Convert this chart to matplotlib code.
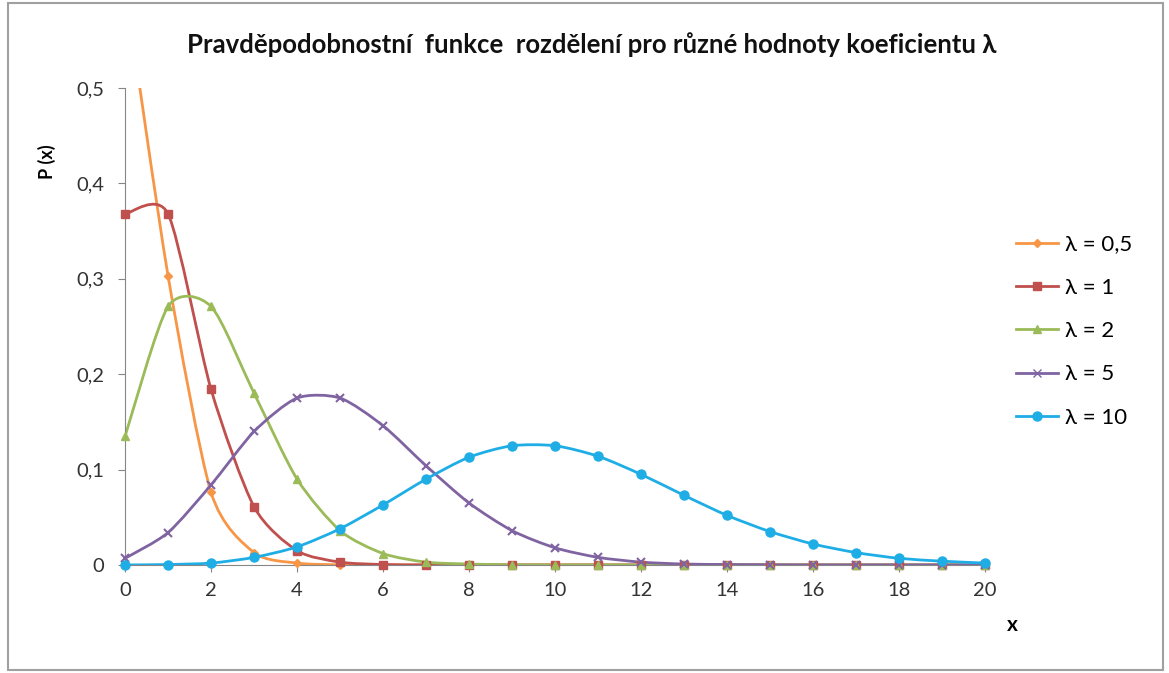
import matplotlib
matplotlib.use("Agg")
import matplotlib.pyplot as plt
from matplotlib.path import Path
from matplotlib.patches import PathPatch, Rectangle
from matplotlib.lines import Line2D

plt.rcParams['font.family'] = ['Lato', 'DejaVu Sans']

# values
x = list(range(21))
lam_05 = [0.607, 0.303, 0.076, 0.013, 0.002, 0.0002, 0, 0, 0, 0, 0, 0, 0, 0, 0, 0, 0, 0, 0, 0, 0]
lam_1 = [0.368, 0.368, 0.184, 0.061, 0.015, 0.003, 0.0005, 0.0001, 0, 0, 0, 0, 0, 0, 0, 0, 0, 0, 0, 0, 0]
lam_2 = [0.135, 0.271, 0.271, 0.180, 0.090, 0.036, 0.012, 0.003, 0.001, 0.0002, 0, 0, 0, 0, 0, 0, 0, 0, 0, 0, 0]
lam_5 = [0.007, 0.034, 0.084, 0.140, 0.175, 0.175, 0.146, 0.104, 0.065, 0.036, 0.018, 0.008,
         0.003, 0.001, 0.0005, 0.0002, 0, 0, 0, 0, 0]
lam_10 = [0.0, 0.0005, 0.002, 0.008, 0.019, 0.038, 0.063, 0.090, 0.113, 0.125, 0.125, 0.114,
          0.095, 0.073, 0.052, 0.035, 0.022, 0.013, 0.007, 0.004, 0.002]

series = [
    ("λ = 0,5", lam_05, "#F79646", "D", 4),
    ("λ = 1", lam_1, "#C0504D", "s", 6),
    ("λ = 2", lam_2, "#9BBB59", "^", 6),
    ("λ = 5", lam_5, "#8064A2", "x", 6),
    ("λ = 10", lam_10, "#1FADE6", "o", 6.5),
]


def smooth_path(xs, ys, k=1 / 8):
    # Excel-like smoothed line: cubic bezier, control points from neighbours
    n = len(xs)
    verts = [(xs[0], ys[0])]
    codes = [Path.MOVETO]
    for i in range(n - 1):
        i0 = max(i - 1, 0)
        i3 = min(i + 2, n - 1)
        c1 = (xs[i] + (xs[i + 1] - xs[i0]) * k, ys[i] + (ys[i + 1] - ys[i0]) * k)
        c2 = (xs[i + 1] - (xs[i3] - xs[i]) * k, ys[i + 1] - (ys[i3] - ys[i]) * k)
        verts += [c1, c2, (xs[i + 1], ys[i + 1])]
        codes += [Path.CURVE4] * 3
    return Path(verts, codes)


fig = plt.figure(figsize=(11.69, 6.73), dpi=100)
ax = fig.add_axes([0.107, 0.1605, 0.7356, 0.7087])

handles = []
for label, ys, col, mk, ms in series:
    patch = PathPatch(smooth_path(x, ys), facecolor="none", edgecolor=col, lw=2)
    ax.add_patch(patch)
    ax.plot(x, ys, ls="none", marker=mk, color=col, ms=ms, mew=1.5 if mk == "x" else 1,
            clip_on=False, zorder=3)
    handles.append(Line2D([], [], color=col, lw=2, marker=mk, ms=ms))

ax.set_xlim(0, 20)
ax.set_ylim(0, 0.5)
ax.set_xticks(range(0, 21, 2))
ax.set_yticks([0, 0.1, 0.2, 0.3, 0.4, 0.5])
ax.set_yticklabels(["0", "0,1", "0,2", "0,3", "0,4", "0,5"])
for s in ["top", "right"]:
    ax.spines[s].set_visible(False)
for s in ["left", "bottom"]:
    ax.spines[s].set_color("#868686")
ax.tick_params(colors="#868686", labelcolor="#333333", labelsize=14.5, length=5)
ax.tick_params(axis="y", pad=10)
ax.tick_params(axis="x", pad=7)

fig.text(0.506, 0.934, "Pravděpodobnostní  funkce  rozdělení pro různé hodnoty koeficientu λ",
         ha="center", va="center", fontsize=18.5, fontweight="bold", color="#111111")
fig.text(0.040, 0.76, "P (x)", rotation=90, ha="center", va="center", fontsize=13,
         fontweight="bold")
fig.text(0.866, 0.072, "x", ha="center", va="center", fontsize=15, fontweight="bold")

fig.legend(handles=handles, labels=[s[0] for s in series],
           loc="center left", bbox_to_anchor=(0.852, 0.508), frameon=False,
           fontsize=16, handlelength=1.9, labelspacing=1.05, handletextpad=0.3)

fig.patches.append(Rectangle((0.007, 0.005), 0.988, 0.99, transform=fig.transFigure,
                             fill=False, edgecolor="#A0A0A0", lw=1.5))

plt.savefig("out.png", dpi=100)
